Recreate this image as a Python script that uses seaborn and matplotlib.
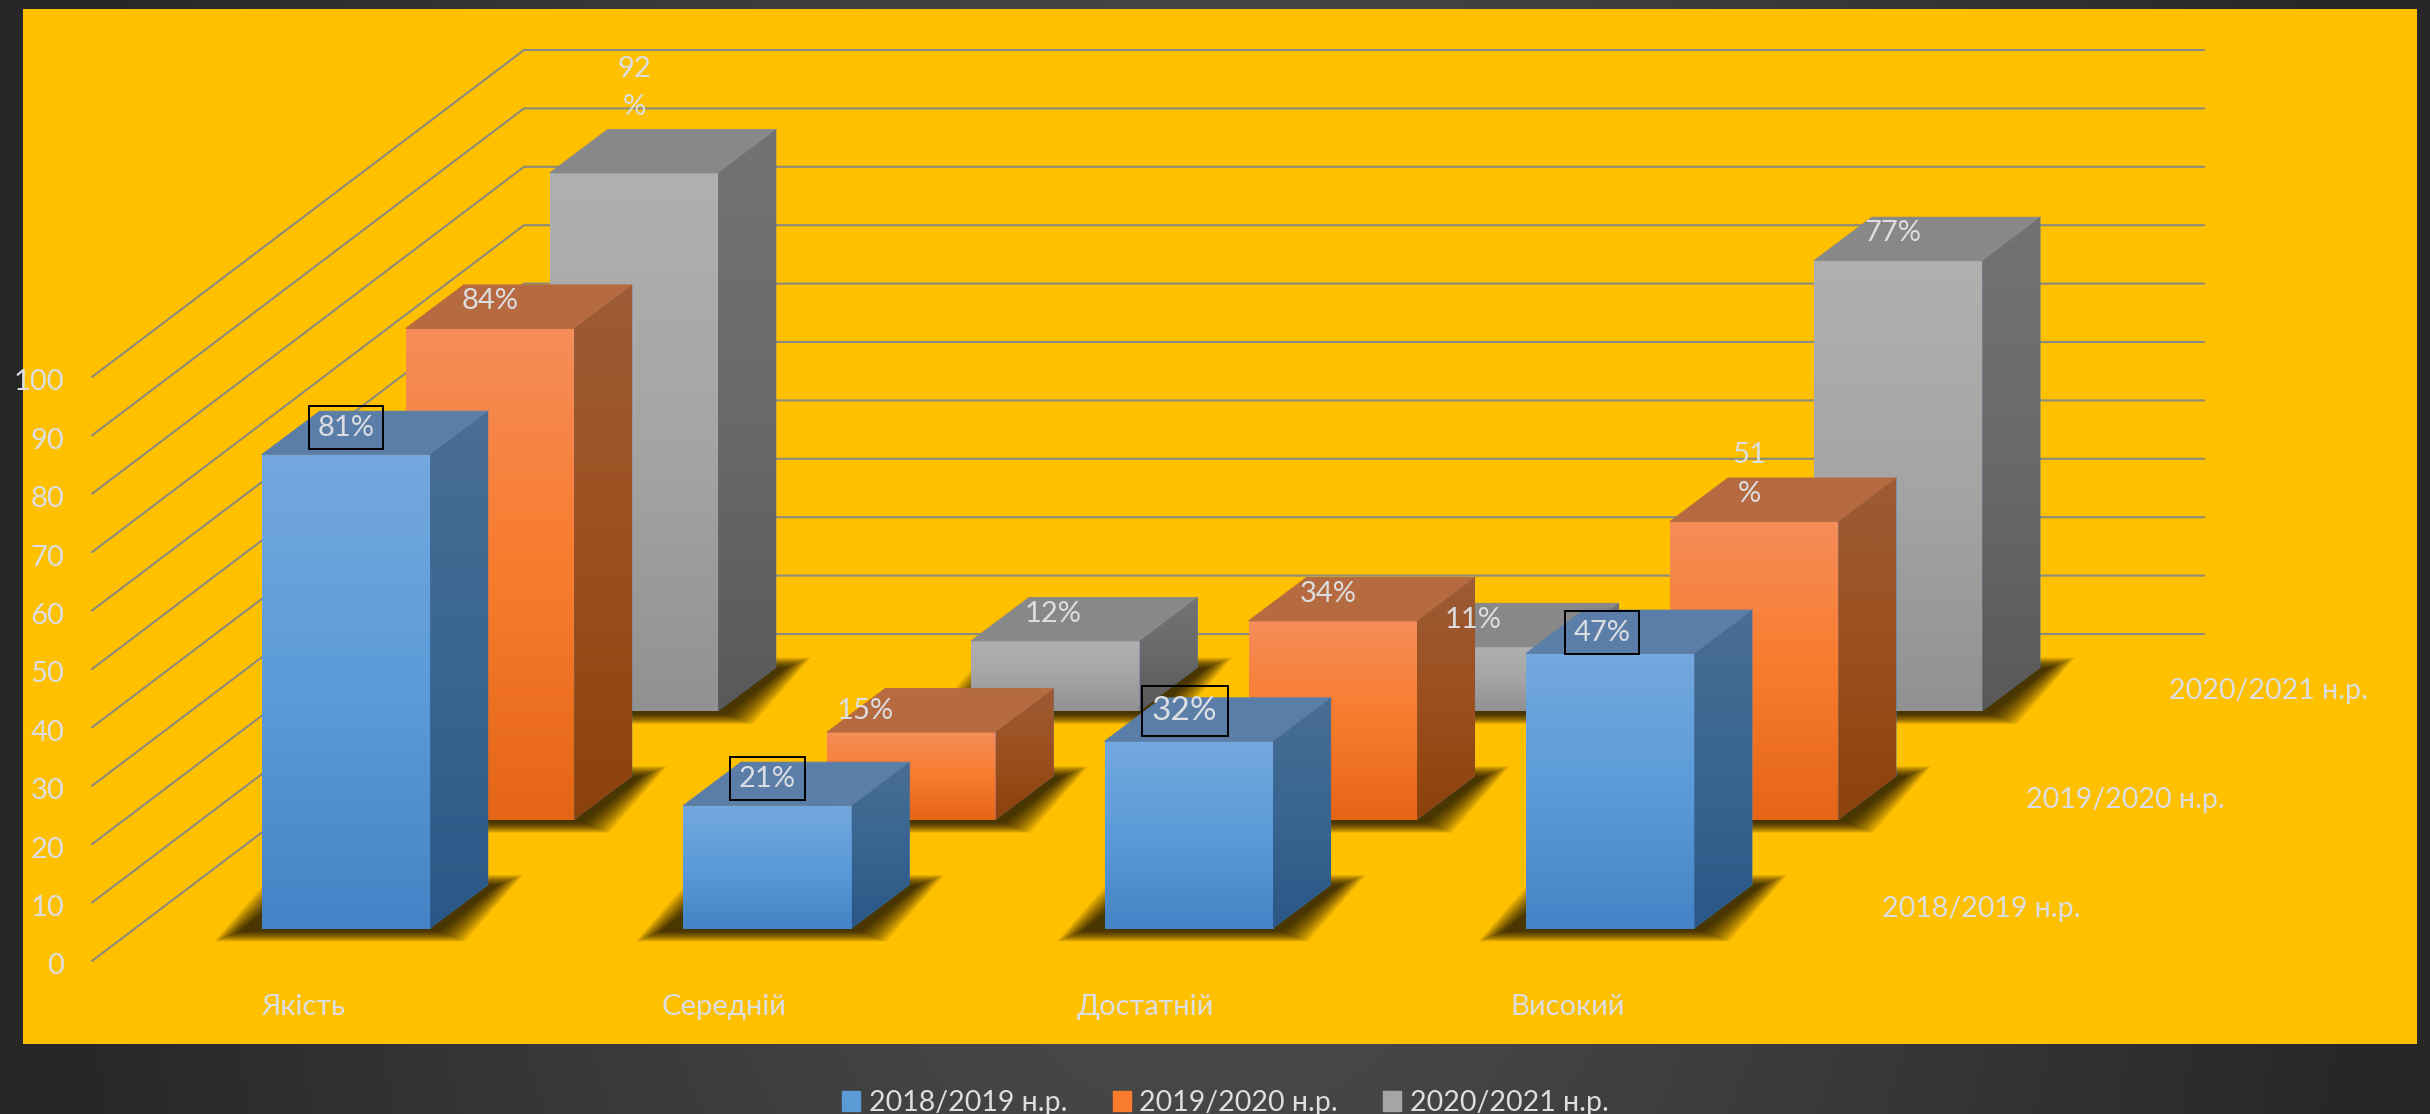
import numpy as np
import pandas as pd
import seaborn as sns
import matplotlib.pyplot as plt
from matplotlib.colors import LinearSegmentedColormap
from matplotlib.patches import Patch, Polygon, Rectangle
from matplotlib.transforms import ScaledTranslation

categories = ['Якість', 'Середній', 'Достатній', 'Високий']
years = ['2018/2019 н.р.', '2019/2020 н.р.', '2020/2021 н.р.']
values_2018 = [81, 21, 32, 47]
values_2019 = [84, 15, 34, 51]
values_2020 = [92, 12, 11, 77]
y_ticks = [0, 10, 20, 30, 40, 50, 60, 70, 80, 90, 100]

W, H = 2430, 1114
DPI = 100
TEXT = '#dcdee2'
BAR_COLORS = ['#5b9bd5', '#f97b2c', '#a5a5a5']
FRONT = [['#74a8de', '#5b9bd9', '#4484c6'],
         ['#f58d59', '#f97b2c', '#e36515'],
         ['#b0b0b0', '#a5a5a5', '#919191']]
SIDE = [['#4a6e93', '#386591', '#2a5785'],
        ['#9c5c36', '#9c4f1d', '#8c420d'],
        ['#737373', '#696969', '#595959']]
TOP = ['#5a7ea8', '#b56a40', '#888888']

# bar geometry in pixels of the final picture
STEP = 421.4
BAR_W = 168.5
UNIT = 5.85
DEPTH_X, DEPTH_Y = 58, 43.5
SERIES_X = 144
SERIES_Y = 108.7
FIRST_CENTER = 346
BASE_Y = 928.5

sns.set_theme(style='white')
plt.rcParams['font.family'] = ['Lato', 'Open Sans', 'DejaVu Sans']


def box(left, top, width, height):
    return [left / W, 1 - (top + height) / H, width / W, height / H]


def px(dx, dy):
    return ScaledTranslation(dx / DPI, dy / DPI, fig.dpi_scale_trans)


def fill(ax, patch, colors, extent):
    cmap = LinearSegmentedColormap.from_list('face', colors)
    im = ax.imshow(np.linspace(0, 1, 256).reshape(-1, 1), cmap=cmap, aspect='auto',
                   extent=extent, origin='upper', zorder=patch.get_zorder() + 0.01,
                   interpolation='bilinear')
    im.set_clip_path(patch)
    im.set_clip_box(fig.bbox)


fig = plt.figure(figsize=(W / DPI, H / DPI), dpi=DPI)

# backdrop
bg = fig.add_axes([0, 0, 1, 1], zorder=-2)
xx, yy = np.meshgrid(np.linspace(-1, 1, 300), np.linspace(-1, 1, 140))
glow = np.clip(1 - np.sqrt(xx ** 2 + ((yy - 0.1) * 0.3) ** 2), 0, 1)
bg_cmap = LinearSegmentedColormap.from_list('bg', ['#262626', '#525252'])
bg.imshow(glow, cmap=bg_cmap, extent=(0, W, H, 0), aspect='auto', origin='upper', interpolation='bilinear')
bg.add_patch(Rectangle((23, 9), 2394, 1035, color='#ffc000', lw=0))
bg.set_xlim(0, W)
bg.set_ylim(H, 0)
bg.axis('off')

# wall with gridlines and the value axis
wall = fig.add_axes(box(92, 377, 2112, 584), zorder=-1)
wall.patch.set_visible(False)
wall.set_xlim(92, 2204)
wall.set_ylim(0, 100)
for v in y_ticks:
    wall.plot([92, 524, 2204], [v, v + 327 / 5.84, v + 327 / 5.84], color='#8c8a7c', lw=1.5,
              clip_on=False, solid_joinstyle='miter')
sns.despine(ax=wall, left=True, bottom=True)
wall.set_xticks([])
wall.set_yticks(y_ticks)
wall.set_yticklabels(y_ticks, fontsize=21, color=TEXT)
wall.tick_params(axis='y', length=0, pad=20)
for lab in wall.get_yticklabels():
    lab.set_transform(lab.get_transform() + px(0, -3))
wall.grid(False)

# one axes per depth row, back row first
series = [values_2018, values_2019, values_2020]
axes = {}
for i in [2, 1, 0]:
    left = FIRST_CENTER + i * SERIES_X - STEP / 2
    base = BASE_Y - i * SERIES_Y
    ax = fig.add_axes(box(left, base - 100 * UNIT, 4 * STEP, 100 * UNIT), zorder=1 + (2 - i))
    axes[i] = ax
    df = pd.DataFrame({'category': categories, 'value': series[i]})
    sns.barplot(data=df, x='category', y='value', color=BAR_COLORS[i], saturation=1,
                width=BAR_W / STEP, ax=ax)
    ax.patch.set_visible(False)
    ax.set_xlim(-0.5, 3.5)
    ax.set_ylim(0, 100)
    ax.set_xlabel('')
    ax.set_ylabel('')
    ax.set_yticks([])
    sns.despine(ax=ax, left=True, bottom=True)
    ax.grid(False)

    ddx = DEPTH_X / STEP
    ddy = DEPTH_Y / UNIT
    for bar in list(ax.patches):
        x0 = bar.get_x()
        x1 = x0 + bar.get_width()
        h = bar.get_height()
        bar.set_linewidth(0)
        fill(ax, bar, FRONT[i], (x0, x1, 0, h))
        side = Polygon([(x1, 0), (x1 + ddx, ddy), (x1 + ddx, h + ddy), (x1, h)], closed=True,
                       lw=0, clip_on=False, zorder=1.2)
        ax.add_patch(side)
        fill(ax, side, SIDE[i], (x1, x1 + ddx, 0, h + ddy))
        ax.add_patch(Polygon([(x0, h), (x0 + ddx, h + ddy), (x1 + ddx, h + ddy), (x1, h)], closed=True,
                             fc=TOP[i], ec=TOP[i], lw=0.6, clip_on=False, zorder=1.2))
        # soft shadow on the floor, stacked layers fake the blur
        for e in np.linspace(13, -13, 28):
            ex = e / STEP
            ey = e * 0.4 / UNIT
            sx0 = x0 - 35 / STEP
            sx1 = x1 + 22 / STEP
            low = -8 / UNIT
            high = ddy + 5 / UNIT
            sh = Polygon([(sx0 - ex, low - ey), (sx1 + ex, low - ey),
                          (sx1 + ddx + ex, high + ey), (sx0 + ddx - ex, high + ey)],
                         closed=True, fc='black', lw=0, alpha=0.04, clip_on=False, zorder=0.5)
            ax.add_patch(sh)
    ax.set_xlim(-0.5, 3.5)
    ax.set_ylim(0, 100)

    # depth axis label
    ax.annotate(years[i], xy=(1, 0), xycoords='axes fraction', xytext=(160 * 0.72, 20 * 0.72),
                textcoords='offset points', ha='center', va='center', fontsize=20.5, color=TEXT,
                annotation_clip=False)

# category labels sit left of the front row bars
front = axes[0]
front.set_xticks(range(len(categories)))
front.set_xticklabels(categories, fontsize=21, color=TEXT)
front.tick_params(axis='x', length=0, pad=47)
for lab in front.get_xticklabels():
    lab.set_transform(lab.get_transform() + px(-43, 0))
for i in [1, 2]:
    axes[i].set_xticks([])

# data labels go on top of every bar axes
shift = {(1, 1): (-46, -6), (0, 3): (-8, -6), (0, 2): (-4, 3), (2, 2): (-4, 0), (2, 1): (-2, 0),
         (1, 2): (-5, 0), (2, 3): (-5, 1), (1, 3): (-5, 0)}
wrapped = [(2, 0), (1, 3)]
boxed = [0]
for i in [2, 1, 0]:
    for j, v in enumerate(series[i]):
        text = f'{v}%'
        dx, dy = shift.get((i, j), (0, 0))
        dy += 27
        if (i, j) in wrapped:
            text = f'{v}\n%'
            dy = 85 if i == 2 else 47
        kw = {}
        if i in boxed:
            kw['bbox'] = dict(boxstyle='square,pad=0.3', fc='none', ec='black', lw=1.4)
        fig.text(j, v, text, transform=axes[i].transData + px(dx, dy), ha='center', va='center',
                 fontsize=24 if (i, j) == (0, 2) else 21, color=TEXT, zorder=10, linespacing=1.6, **kw)

handles = [Patch(color=c) for c in BAR_COLORS]
fig.legend(handles, years, loc='center', bbox_to_anchor=(0.5043, 1 - 1103 / H), ncol=3, frameon=False,
           fontsize=20.5, labelcolor=TEXT, handlelength=0.63, handleheight=0.65, handletextpad=0.3,
           columnspacing=1.6)

fig.savefig('out.png', dpi=DPI)
